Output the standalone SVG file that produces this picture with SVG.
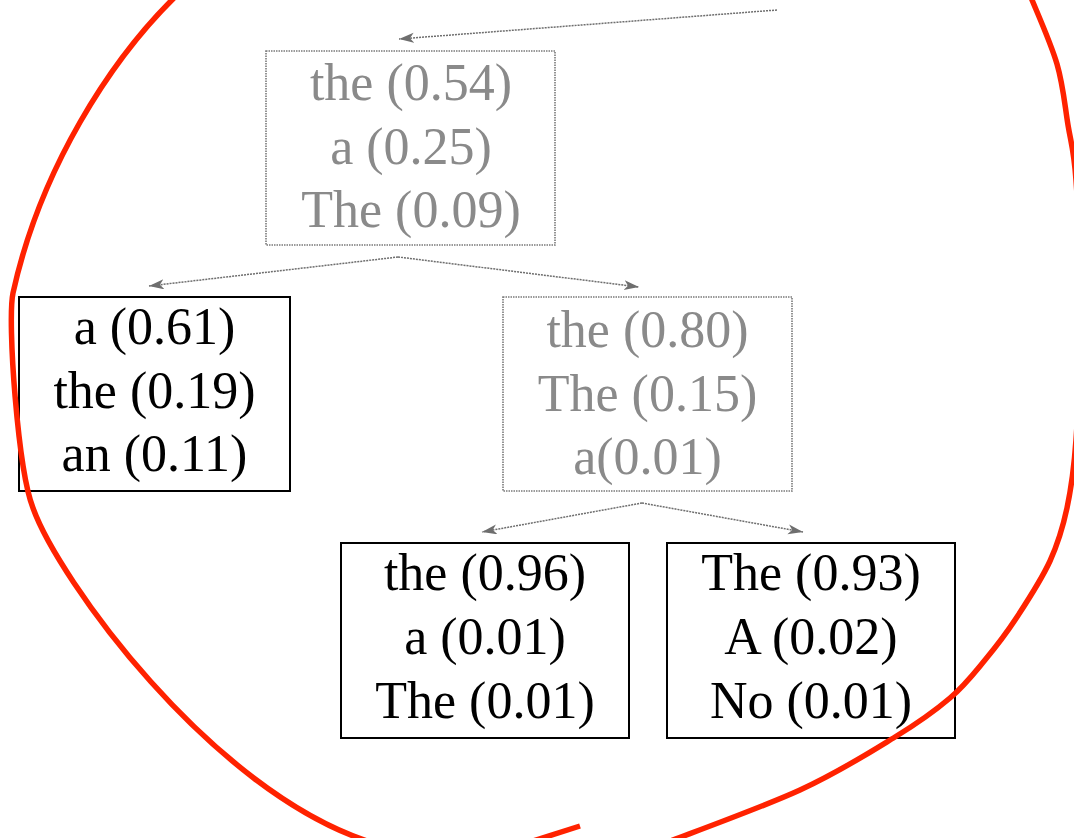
<svg xmlns="http://www.w3.org/2000/svg" width="1074" height="838" viewBox="0 0 1074 838">
<style>
.box{fill:none;stroke:#000;stroke-width:2}
.gbox{fill:none;stroke:#7a7a7a;stroke-width:1.6;stroke-dasharray:1.5 1}
.t{font-family:"Liberation Serif","Times New Roman",serif;font-size:52px;fill:#000;text-anchor:middle}
.g{fill:#8a8a8a}
.edge{fill:none;stroke:#6e6e6e;stroke-width:1.5;stroke-dasharray:2 1}
.red{fill:none;stroke:#ff2200;stroke-width:5.5;stroke-linecap:butt}
</style>
<defs>
<marker id="ah" markerUnits="userSpaceOnUse" markerWidth="16" markerHeight="12" refX="15" refY="5" orient="auto">
<path d="M0,0 L15,5 L0,10 L4,5 Z" fill="#6e6e6e"/>
</marker>
</defs>
<rect width="1074" height="838" fill="#fff"/>
<g id="connectors">
<path class="edge" d="M777,10 L399,39" marker-end="url(#ah)"/>
<path class="edge" d="M398,257 L149,286" marker-end="url(#ah)"/>
<path class="edge" d="M398,257 L639,287" marker-end="url(#ah)"/>
<path class="edge" d="M642,503 L482,532" marker-end="url(#ah)"/>
<path class="edge" d="M642,503 L803,532" marker-end="url(#ah)"/>
</g>
<g id="n1">
<rect class="gbox" x="266" y="51" width="289" height="194"/>
<text class="t g" x="411" y="100">the (0.54)</text>
<text class="t g" x="411" y="164">a (0.25)</text>
<text class="t g" x="411" y="227">The (0.09)</text>
</g>
<g id="n2">
<rect class="box" x="19" y="297" width="271" height="194"/>
<text class="t" x="154.5" y="344">a (0.61)</text>
<text class="t" x="154.5" y="408">the (0.19)</text>
<text class="t" x="154.5" y="471">an (0.11)</text>
</g>
<g id="n3">
<rect class="gbox" x="503" y="297" width="289" height="194"/>
<text class="t g" x="647.5" y="347">the (0.80)</text>
<text class="t g" x="647.5" y="411">The (0.15)</text>
<text class="t g" x="647.5" y="474">a(0.01)</text>
</g>
<g id="n4">
<rect class="box" x="341" y="543" width="288" height="195"/>
<text class="t" x="485" y="590">the (0.96)</text>
<text class="t" x="485" y="654">a (0.01)</text>
<text class="t" x="485" y="718">The (0.01)</text>
</g>
<g id="n5">
<rect class="box" x="667" y="543" width="288" height="195"/>
<text class="t" x="811" y="590">The (0.93)</text>
<text class="t" x="811" y="654">A (0.02)</text>
<text class="t" x="811" y="718">No (0.01)</text>
</g>
<g id="annotation">
<path class="red" d="M177,-5 C110,60 40,170 13,293 C7,321 18,470 33,508 C58,578 210,790 370,842"/>
<path class="red" d="M533,841 L580,826"/>
<path class="red" d="M660,845 C683.3,835.8 760.8,808 800,790 C839.2,772 870,752.3 895,737 C920,721.7 935,710.8 950,698 C965,685.2 973.8,673.5 985,660 C996.2,646.5 1006.2,633.5 1017,617 C1027.8,600.5 1041.7,579.2 1050,561 C1058.3,542.8 1062.7,528.2 1067,508 C1071.3,487.8 1073.7,473 1076,440 C1078.3,407 1081,353.3 1081,310 C1081,266.7 1078.2,210.8 1076,180 C1073.8,149.2 1071.2,144.3 1068,125 C1064.8,105.7 1063.3,85.7 1057,64 C1050.7,42.3 1034.5,6.5 1030,-5"/>
</g>
</svg>
